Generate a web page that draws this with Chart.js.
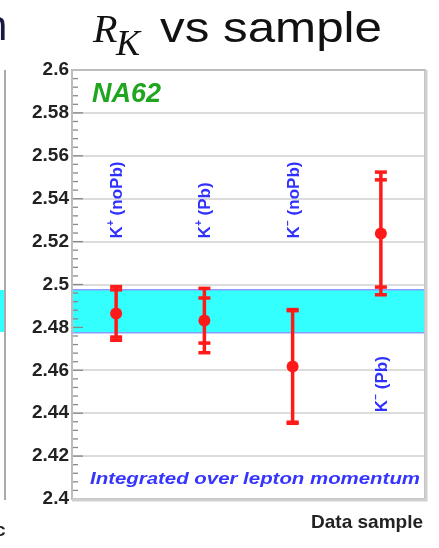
<!DOCTYPE html>
<html>
<head>
<meta charset="utf-8">
<script src="https://cdn.jsdelivr.net/npm/chart.js@4.4.1/dist/chart.umd.min.js"></script>
<style>
  html, body { margin: 0; padding: 0; background: #fff; }
  #wrap { width: 439px; height: 548px; position: relative; }
</style>
</head>
<body>
<div id="wrap"><canvas id="rk"></canvas></div>
<script>
// values
const samples = ["K+ (noPb)", "K+ (Pb)", "K- (noPb)", "K- (Pb)"];
const rkValues = [2.4865, 2.4832, 2.4618, 2.5238];
const statErr = [0.011, 0.0105, 0.026, 0.025];
const totalErr = [0.0125, 0.015, 0.0265, 0.0286];
const avgBand = [2.4775, 2.4975];
const yRange = [2.4, 2.6];

// where the rotated sample names start (y value of their bottom end)
const labelBase = [2.5215, 2.5215, 2.5215, 2.4405];

const blue = "#3030ff";
const red = "#ff1a1a";

// cyan band of the combined result
const bandPlugin = {
  id: "band",
  beforeDatasetsDraw(chart) {
    const { ctx, chartArea: { left, right }, scales: { y } } = chart;
    const top = y.getPixelForValue(avgBand[1]);
    const bot = y.getPixelForValue(avgBand[0]);
    ctx.save();
    ctx.fillStyle = "#33ffff";
    ctx.fillRect(left, top, right - left, bot - top);
    ctx.strokeStyle = "#8a9cff";
    ctx.lineWidth = 1.5;
    ctx.beginPath();
    ctx.moveTo(left, top); ctx.lineTo(right, top);
    ctx.moveTo(left, bot); ctx.lineTo(right, bot);
    ctx.stroke();
    ctx.restore();
  }
};

// stat (inner) and total (outer) error bars
const errorBars = {
  id: "errorBars",
  beforeDatasetsDraw(chart) {
    const { ctx, scales: { y } } = chart;
    const meta = chart.getDatasetMeta(0);
    ctx.save();
    ctx.strokeStyle = red;
    ctx.lineCap = "butt";
    meta.data.forEach((pt, i) => {
      const x = pt.x;
      const hi = y.getPixelForValue(rkValues[i] + totalErr[i]);
      const lo = y.getPixelForValue(rkValues[i] - totalErr[i]);
      ctx.lineWidth = 3.5;
      ctx.beginPath();
      ctx.moveTo(x, hi); ctx.lineTo(x, lo);
      ctx.stroke();
      [rkValues[i] + statErr[i], rkValues[i] - statErr[i], rkValues[i] + totalErr[i], rkValues[i] - totalErr[i]].forEach(v => {
        const py = y.getPixelForValue(v);
        ctx.lineWidth = 3.5;
        ctx.beginPath();
        ctx.moveTo(x - 6, py); ctx.lineTo(x + 6, py);
        ctx.stroke();
      });
    });
    ctx.restore();
  }
};

// frame, minor ticks and all the loose text
const decor = {
  id: "decor",
  afterDraw(chart) {
    const { ctx, chartArea: { left, right, top, bottom }, scales: { y } } = chart;
    ctx.save();

    // ticks on the inside of the y axis
    ctx.strokeStyle = "#888";
    ctx.lineWidth = 1.3;
    for (let k = 0; k <= 50; k++) {
      const py = y.getPixelForValue(yRange[0] + k * 0.004);
      const len = k % 5 === 0 ? 11 : 6;
      ctx.beginPath();
      ctx.moveTo(left, py); ctx.lineTo(left + len, py);
      ctx.stroke();
    }

    // frame
    ctx.strokeStyle = "#bdbdbd";
    ctx.lineWidth = 2;
    ctx.strokeRect(left, top, right - left, bottom - top);
    ctx.strokeStyle = "#cfcfcf";
    ctx.lineWidth = 3;
    ctx.beginPath();
    ctx.moveTo(right + 1, top); ctx.lineTo(right + 1, bottom + 1);
    ctx.lineTo(left, bottom + 1);
    ctx.stroke();

    // title
    ctx.fillStyle = "#111";
    ctx.textBaseline = "alphabetic";
    ctx.textAlign = "left";
    ctx.font = "italic 40px 'Liberation Serif'";
    ctx.fillText("R", 93, 42);
    ctx.font = "italic 36px 'Liberation Serif'";
    ctx.fillText("K", 116, 55);
    ctx.font = "42px 'Liberation Sans'";
    let w = ctx.measureText("vs sample").width;
    ctx.save();
    ctx.translate(160, 42);
    ctx.scale(222 / w, 1);
    ctx.fillText("vs sample", 0, 0);
    ctx.restore();

    // NA62 tag
    ctx.fillStyle = "#1fa51f";
    ctx.font = "italic bold 27px 'Liberation Sans'";
    ctx.fillText("NA62", 92, 102);

    // bottom note
    ctx.fillStyle = "#3535ff";
    ctx.font = "italic bold 17px 'Liberation Sans'";
    w = ctx.measureText("Integrated over lepton momentum").width;
    ctx.save();
    ctx.translate(90, 484);
    ctx.scale(330 / w, 1);
    ctx.fillText("Integrated over lepton momentum", 0, 0);
    ctx.restore();

    // axis title
    ctx.fillStyle = "#222";
    ctx.font = "bold 19px 'Liberation Sans'";
    ctx.textAlign = "right";
    ctx.fillText("Data sample", 423, 528);

    // rotated sample names
    const meta = chart.getDatasetMeta(0);
    meta.data.forEach((pt, i) => {
      const charge = samples[i].charAt(1);
      const rest = samples[i].slice(2);
      ctx.save();
      ctx.translate(pt.x + 6, y.getPixelForValue(labelBase[i]));
      ctx.rotate(-Math.PI / 2);
      ctx.fillStyle = blue;
      ctx.textAlign = "left";
      ctx.font = "bold 17px 'Liberation Sans'";
      ctx.fillText("K", 0, 0);
      let x = ctx.measureText("K").width;
      ctx.font = "bold 10px 'Liberation Sans'";
      ctx.fillText(charge === "+" ? "+" : "\u2212", x, -8);
      x += 6;
      ctx.font = "bold 17px 'Liberation Sans'";
      ctx.fillText(rest, x, 0);
      ctx.restore();
    });

    // edge of the neighbouring panel
    ctx.fillStyle = "#33ffff";
    ctx.fillRect(0, 290, 4, 42);
    ctx.strokeStyle = "#aaa";
    ctx.lineWidth = 2;
    ctx.beginPath();
    ctx.moveTo(5, 70); ctx.lineTo(5, 500);
    ctx.stroke();
    ctx.fillStyle = "#1a1a40";
    ctx.textAlign = "left";
    ctx.font = "42px 'Liberation Sans'";
    ctx.fillText("n", -16, 40);
    ctx.fillStyle = "#222";
    ctx.font = "bold 19px 'Liberation Sans'";
    ctx.fillText("c", -5, 536);

    ctx.restore();
  }
};

new Chart(document.getElementById("rk"), {
  type: "line",
  data: {
    labels: samples,
    datasets: [{
      data: rkValues,
      showLine: false,
      pointRadius: 6,
      pointHoverRadius: 6,
      pointBackgroundColor: red,
      pointBorderColor: red,
      borderWidth: 0
    }]
  },
  options: {
    responsive: true,
    maintainAspectRatio: false,
    animation: false,
    layout: { padding: { top: 70, right: 14, bottom: 49, left: 0 } },
    plugins: {
      legend: { display: false },
      tooltip: { enabled: false }
    },
    scales: {
      x: {
        type: "category",
        offset: true,
        display: false
      },
      y: {
        min: yRange[0],
        max: yRange[1],
        afterFit(scale) { scale.width = 72; },
        border: { display: false },
        grid: { color: "#dcdcdc", lineWidth: 2, drawTicks: false },
        ticks: {
          stepSize: 0.02,
          padding: 3,
          color: "#222",
          font: { family: "'Liberation Sans'", size: 19, weight: "bold" },
          callback: v => String(+v.toFixed(2))
        }
      }
    }
  },
  plugins: [bandPlugin, errorBars, decor]
});
</script>
</body>
</html>
